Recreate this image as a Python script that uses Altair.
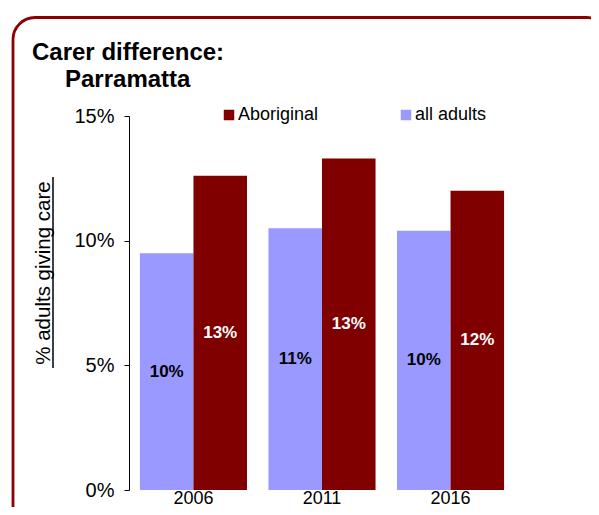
import altair as alt
import pandas as pd

years = ["2006", "2011", "2016"]
all_adults = [9.5, 10.5, 10.4]
aboriginal = [12.6, 13.3, 12.0]
series_names = ["Aboriginal", "all adults"]
bar_order = ["all adults", "Aboriginal"]
colors = ["#800000", "#9999FF"]
y_ticks = [0, 5, 10, 15]

rows = []
for i, yr in enumerate(years):
    rows.append({"year": yr, "series": "all adults", "value": all_adults[i]})
    rows.append({"year": yr, "series": "Aboriginal", "value": aboriginal[i]})
df = pd.DataFrame(rows)

FONT = "Liberation Sans"
W, H = 386, 374

x_enc = alt.X("year:N", title=None,
              scale=alt.Scale(paddingInner=0.167, paddingOuter=0.085),
              axis=alt.Axis(domain=False, ticks=False, tickSize=0, labelAngle=0,
                            labelFontSize=18, labelPadding=13,
                            labelBaseline="alphabetic", labelColor="black",
                            labelFont=FONT))
xo_enc = alt.XOffset("series:N", sort=bar_order,
                     scale=alt.Scale(paddingInner=0, paddingOuter=0))

bars = alt.Chart(df).mark_bar().encode(
    x=x_enc,
    xOffset=xo_enc,
    y=alt.Y("value:Q", title=None,
            scale=alt.Scale(domain=[0, 15], nice=False),
            axis=alt.Axis(values=y_ticks, labelExpr="datum.value + '%'",
                          grid=False, domainColor="black", tickColor="black",
                          tickSize=5, labelFontSize=20, labelPadding=10,
                          labelColor="black", labelFont=FONT)),
    color=alt.Color("series:N",
                    scale=alt.Scale(domain=series_names, range=colors),
                    legend=alt.Legend(title=None, orient="none", legendX=91,
                                      legendY=-10, direction="horizontal",
                                      symbolType="square", symbolSize=110,
                                      symbolStrokeWidth=0,
                                      labelFontSize=18, labelFont=FONT,
                                      labelColor="black", columnPadding=78,
                                      labelOffset=0)),
)

labels = alt.Chart(df).transform_calculate(
    mid="datum.value / 2",
    txt="round(datum.value) + '%'",
).mark_text(fontSize=17, fontWeight="bold", font=FONT, baseline="middle").encode(
    x=alt.X("year:N"),
    xOffset=xo_enc,
    y=alt.Y("mid:Q"),
    text="txt:N",
    fill=alt.condition(alt.datum.series == "Aboriginal",
                       alt.value("white"), alt.value("black")),
)

deco = pd.DataFrame({"k": [0]})

border = alt.Chart(deco).mark_rect(
    fill=None, fillOpacity=0, stroke="#8B0000", strokeWidth=2.8, cornerRadius=22
).encode(x=alt.value(-116), x2=alt.value(480), y=alt.value(-98.5), y2=alt.value(412))

title1 = alt.Chart(deco).mark_text(
    text="Carer difference:", fontSize=24, fontWeight="bold", font=FONT,
    align="left", baseline="alphabetic", color="black"
).encode(x=alt.value(-97), y=alt.value(-56))

title2 = alt.Chart(deco).mark_text(
    text="Parramatta", fontSize=24, fontWeight="bold", font=FONT,
    align="left", baseline="alphabetic", color="black"
).encode(x=alt.value(-64), y=alt.value(-29))

ytitle = alt.Chart(deco).mark_text(
    text="% adults giving care", fontSize=20.5, font=FONT, angle=270,
    align="center", baseline="middle", color="black"
).encode(x=alt.value(-85), y=alt.value(157))

underline = alt.Chart(deco).mark_rule(color="black", strokeWidth=1.5).encode(
    x=alt.value(-76), y=alt.value(61), y2=alt.value(252))

chart = alt.layer(bars, labels, border, title1, title2, ytitle, underline).properties(
    width=W, height=H,
    autosize=alt.AutoSizeParams(type="none"),
    padding={"left": 121, "top": 108, "right": 76, "bottom": 17},
).configure_view(stroke=None)

chart.save("out.html", embed_options={"renderer": "svg", "actions": False})
